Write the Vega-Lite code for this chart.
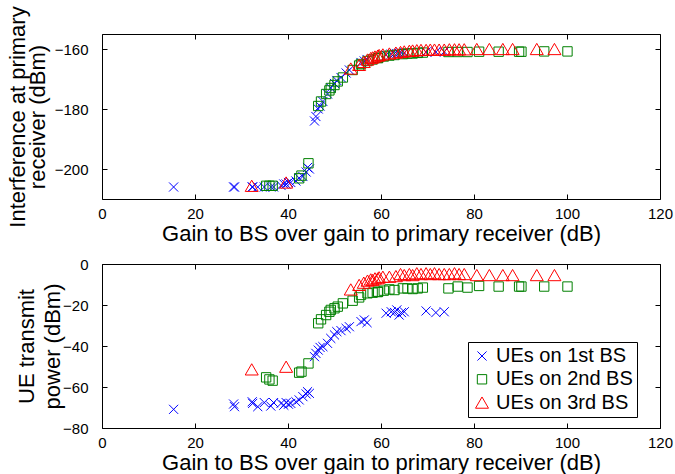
{
  "$schema": "https://vega.github.io/schema/vega-lite/v6.json",
  "padding": {"left": 6, "top": 5, "right": 2, "bottom": 0},
  "autosize": {"type": "pad"},
  "config": {
    "font": "Liberation Sans",
    "view": {"stroke": "black", "strokeWidth": 1},
    "axis": {"grid": false, "domain": false, "offset": -5, "tickSize": 5, "tickColor": "black", "tickWidth": 1, "labelColor": "black", "labelFontSize": 15, "labelFont": "Liberation Sans", "titleFont": "Liberation Sans", "titleFontSize": 22, "titleFontWeight": "normal", "titleColor": "black", "labelOverlap": false, "labelFlush": false, "labelBound": false},
    "point": {"filled": false, "opacity": 1, "strokeWidth": 1, "size": 169},
    "legend": {"padding": 4, "strokeColor": "black", "fillColor": "white", "labelFontSize": 20, "labelColor": "black", "labelFont": "Liberation Sans", "rowPadding": 3.3, "symbolOffset": 0, "labelOffset": 4, "symbolStrokeWidth": 1, "symbolSize": 169, "cornerRadius": 0}
  },
  "datasets": {
    "ue": [
      {"bs": "UEs on 1st BS", "gain": 15.4, "interf": -206, "power": -70.9},
      {"bs": "UEs on 1st BS", "gain": 28.3, "interf": -206, "power": -68.3},
      {"bs": "UEs on 1st BS", "gain": 28.5, "interf": -206, "power": -69.6},
      {"bs": "UEs on 1st BS", "gain": 32.3, "interf": -206, "power": -67.2},
      {"bs": "UEs on 1st BS", "gain": 32.4, "interf": -206, "power": -68},
      {"bs": "UEs on 1st BS", "gain": 33.5, "interf": -206, "power": -69.6},
      {"bs": "UEs on 1st BS", "gain": 34.9, "interf": -206, "power": -67.6},
      {"bs": "UEs on 1st BS", "gain": 36.3, "interf": -206, "power": -69.3},
      {"bs": "UEs on 1st BS", "gain": 36.9, "interf": -206, "power": -67.6},
      {"bs": "UEs on 1st BS", "gain": 38.5, "interf": -205.5, "power": -68},
      {"bs": "UEs on 1st BS", "gain": 39.1, "interf": -205, "power": -68.9},
      {"bs": "UEs on 1st BS", "gain": 39.6, "interf": -205, "power": -67.6},
      {"bs": "UEs on 1st BS", "gain": 40.1, "interf": -204.5, "power": -68.4},
      {"bs": "UEs on 1st BS", "gain": 40.6, "interf": -204.5, "power": -68},
      {"bs": "UEs on 1st BS", "gain": 41.7, "interf": -204, "power": -67.2},
      {"bs": "UEs on 1st BS", "gain": 42.4, "interf": -203, "power": -66.3},
      {"bs": "UEs on 1st BS", "gain": 43.2, "interf": -202.5, "power": -64.7},
      {"bs": "UEs on 1st BS", "gain": 43.9, "interf": -201, "power": -63.4},
      {"bs": "UEs on 1st BS", "gain": 44.2, "interf": -199.5, "power": -62.3},
      {"bs": "UEs on 1st BS", "gain": 44.6, "interf": -200, "power": -63.1},
      {"bs": "UEs on 1st BS", "gain": 45.7, "interf": -184, "power": -45.2},
      {"bs": "UEs on 1st BS", "gain": 46.0, "interf": -182.5, "power": -43.6},
      {"bs": "UEs on 1st BS", "gain": 46.5, "interf": -180, "power": -42},
      {"bs": "UEs on 1st BS", "gain": 46.9, "interf": -179, "power": -40.7},
      {"bs": "UEs on 1st BS", "gain": 47.5, "interf": -177.5, "power": -40.3},
      {"bs": "UEs on 1st BS", "gain": 48.5, "interf": -175, "power": -38.7},
      {"bs": "UEs on 1st BS", "gain": 49.2, "interf": -173, "power": -36.3},
      {"bs": "UEs on 1st BS", "gain": 50.0, "interf": -171.5, "power": -34.6},
      {"bs": "UEs on 1st BS", "gain": 50.5, "interf": -170.5, "power": -33},
      {"bs": "UEs on 1st BS", "gain": 51.4, "interf": -169.5, "power": -32.5},
      {"bs": "UEs on 1st BS", "gain": 52.5, "interf": -168, "power": -31.4},
      {"bs": "UEs on 1st BS", "gain": 53.2, "interf": -167, "power": -30.6},
      {"bs": "UEs on 1st BS", "gain": 55.7, "interf": -164.5, "power": -28.1},
      {"bs": "UEs on 1st BS", "gain": 56.4, "interf": -164, "power": -27.3},
      {"bs": "UEs on 1st BS", "gain": 57.0, "interf": -163.5, "power": -28.6},
      {"bs": "UEs on 1st BS", "gain": 61.1, "interf": -162, "power": -24},
      {"bs": "UEs on 1st BS", "gain": 62.2, "interf": -161.7, "power": -23.3},
      {"bs": "UEs on 1st BS", "gain": 62.9, "interf": -161.5, "power": -23.7},
      {"bs": "UEs on 1st BS", "gain": 63.4, "interf": -161.5, "power": -22.4},
      {"bs": "UEs on 1st BS", "gain": 63.9, "interf": -161.4, "power": -24.9},
      {"bs": "UEs on 1st BS", "gain": 64.4, "interf": -161.3, "power": -23.7},
      {"bs": "UEs on 1st BS", "gain": 65.0, "interf": -161.2, "power": -23.3},
      {"bs": "UEs on 1st BS", "gain": 69.7, "interf": -161, "power": -22.9},
      {"bs": "UEs on 1st BS", "gain": 71.8, "interf": -161, "power": -23.7},
      {"bs": "UEs on 1st BS", "gain": 73.6, "interf": -160.9, "power": -23.3},
      {"bs": "UEs on 2nd BS", "gain": 35.3, "interf": -205.6, "power": -55.3},
      {"bs": "UEs on 2nd BS", "gain": 36.0, "interf": -205.6, "power": -56.3},
      {"bs": "UEs on 2nd BS", "gain": 36.7, "interf": -205.6, "power": -56.9},
      {"bs": "UEs on 2nd BS", "gain": 42.4, "interf": -203.1, "power": -53},
      {"bs": "UEs on 2nd BS", "gain": 42.9, "interf": -202.2, "power": -52.5},
      {"bs": "UEs on 2nd BS", "gain": 44.4, "interf": -198.1, "power": -48.5},
      {"bs": "UEs on 2nd BS", "gain": 46.5, "interf": -179, "power": -28.9},
      {"bs": "UEs on 2nd BS", "gain": 47.1, "interf": -177.5, "power": -27},
      {"bs": "UEs on 2nd BS", "gain": 48.2, "interf": -175, "power": -24.9},
      {"bs": "UEs on 2nd BS", "gain": 48.9, "interf": -173.8, "power": -23.3},
      {"bs": "UEs on 2nd BS", "gain": 49.2, "interf": -173, "power": -22.4},
      {"bs": "UEs on 2nd BS", "gain": 50.0, "interf": -172, "power": -21.6},
      {"bs": "UEs on 2nd BS", "gain": 50.7, "interf": -170.8, "power": -20.8},
      {"bs": "UEs on 2nd BS", "gain": 51.8, "interf": -169.5, "power": -19.2},
      {"bs": "UEs on 2nd BS", "gain": 53.9, "interf": -167, "power": -17.9},
      {"bs": "UEs on 2nd BS", "gain": 55.3, "interf": -165.5, "power": -16.3},
      {"bs": "UEs on 2nd BS", "gain": 55.7, "interf": -165, "power": -15.1},
      {"bs": "UEs on 2nd BS", "gain": 57.1, "interf": -164, "power": -14.3},
      {"bs": "UEs on 2nd BS", "gain": 58.2, "interf": -163.5, "power": -14},
      {"bs": "UEs on 2nd BS", "gain": 59.3, "interf": -163, "power": -13.7},
      {"bs": "UEs on 2nd BS", "gain": 59.4, "interf": -163, "power": -13.5},
      {"bs": "UEs on 2nd BS", "gain": 60.6, "interf": -162.5, "power": -13},
      {"bs": "UEs on 2nd BS", "gain": 61.8, "interf": -162.2, "power": -12.4},
      {"bs": "UEs on 2nd BS", "gain": 62.9, "interf": -162, "power": -12.7},
      {"bs": "UEs on 2nd BS", "gain": 64.7, "interf": -161.7, "power": -11.9},
      {"bs": "UEs on 2nd BS", "gain": 65.7, "interf": -161.5, "power": -11.9},
      {"bs": "UEs on 2nd BS", "gain": 66.8, "interf": -161.5, "power": -12.2},
      {"bs": "UEs on 2nd BS", "gain": 67.9, "interf": -161.3, "power": -11.9},
      {"bs": "UEs on 2nd BS", "gain": 69.0, "interf": -161.2, "power": -11.5},
      {"bs": "UEs on 2nd BS", "gain": 74.5, "interf": -161, "power": -11.9},
      {"bs": "UEs on 2nd BS", "gain": 76.5, "interf": -161, "power": -11},
      {"bs": "UEs on 2nd BS", "gain": 78.6, "interf": -161, "power": -11.5},
      {"bs": "UEs on 2nd BS", "gain": 81.1, "interf": -160.9, "power": -10.7},
      {"bs": "UEs on 2nd BS", "gain": 85.3, "interf": -160.9, "power": -11},
      {"bs": "UEs on 2nd BS", "gain": 89.7, "interf": -160.9, "power": -11},
      {"bs": "UEs on 2nd BS", "gain": 90.2, "interf": -160.9, "power": -11},
      {"bs": "UEs on 2nd BS", "gain": 95.1, "interf": -160.8, "power": -11},
      {"bs": "UEs on 2nd BS", "gain": 100.1, "interf": -160.8, "power": -11},
      {"bs": "UEs on 3rd BS", "gain": 32.2, "interf": -205.6, "power": -51.4},
      {"bs": "UEs on 3rd BS", "gain": 39.6, "interf": -204.5, "power": -50.1},
      {"bs": "UEs on 3rd BS", "gain": 53.5, "interf": -166.5, "power": -12.4},
      {"bs": "UEs on 3rd BS", "gain": 55.3, "interf": -165.3, "power": -10.2},
      {"bs": "UEs on 3rd BS", "gain": 56.3, "interf": -164.3, "power": -9.1},
      {"bs": "UEs on 3rd BS", "gain": 57.1, "interf": -163.5, "power": -8.1},
      {"bs": "UEs on 3rd BS", "gain": 57.8, "interf": -163, "power": -7.5},
      {"bs": "UEs on 3rd BS", "gain": 58.2, "interf": -162.8, "power": -7.8},
      {"bs": "UEs on 3rd BS", "gain": 58.7, "interf": -162.5, "power": -7},
      {"bs": "UEs on 3rd BS", "gain": 59.3, "interf": -162.2, "power": -7},
      {"bs": "UEs on 3rd BS", "gain": 59.6, "interf": -162, "power": -6.5},
      {"bs": "UEs on 3rd BS", "gain": 60.4, "interf": -161.8, "power": -6.2},
      {"bs": "UEs on 3rd BS", "gain": 61.8, "interf": -161.5, "power": -6.2},
      {"bs": "UEs on 3rd BS", "gain": 63.2, "interf": -161.2, "power": -5.9},
      {"bs": "UEs on 3rd BS", "gain": 64.2, "interf": -161, "power": -4.9},
      {"bs": "UEs on 3rd BS", "gain": 65.0, "interf": -160.8, "power": -5.4},
      {"bs": "UEs on 3rd BS", "gain": 66.1, "interf": -160.6, "power": -4.9},
      {"bs": "UEs on 3rd BS", "gain": 66.8, "interf": -160.5, "power": -5.4},
      {"bs": "UEs on 3rd BS", "gain": 67.7, "interf": -160.4, "power": -4.5},
      {"bs": "UEs on 3rd BS", "gain": 68.6, "interf": -160.3, "power": -4.9},
      {"bs": "UEs on 3rd BS", "gain": 69.7, "interf": -160.3, "power": -4.5},
      {"bs": "UEs on 3rd BS", "gain": 70.6, "interf": -160.2, "power": -4.9},
      {"bs": "UEs on 3rd BS", "gain": 71.5, "interf": -160.2, "power": -4.5},
      {"bs": "UEs on 3rd BS", "gain": 72.5, "interf": -160.2, "power": -4.9},
      {"bs": "UEs on 3rd BS", "gain": 73.6, "interf": -160.2, "power": -4.9},
      {"bs": "UEs on 3rd BS", "gain": 74.7, "interf": -160.1, "power": -4.9},
      {"bs": "UEs on 3rd BS", "gain": 75.8, "interf": -160.1, "power": -4.5},
      {"bs": "UEs on 3rd BS", "gain": 76.8, "interf": -160.1, "power": -4.9},
      {"bs": "UEs on 3rd BS", "gain": 77.9, "interf": -160.1, "power": -4.9},
      {"bs": "UEs on 3rd BS", "gain": 80.6, "interf": -160, "power": -5.4},
      {"bs": "UEs on 3rd BS", "gain": 83.3, "interf": -160, "power": -5.4},
      {"bs": "UEs on 3rd BS", "gain": 86.2, "interf": -160, "power": -5.4},
      {"bs": "UEs on 3rd BS", "gain": 88.3, "interf": -160, "power": -5.4},
      {"bs": "UEs on 3rd BS", "gain": 93.5, "interf": -160, "power": -5.4},
      {"bs": "UEs on 3rd BS", "gain": 97.3, "interf": -160, "power": -5.4}
    ]
  },
  "spacing": 11,
  "resolve": {"legend": {"color": "independent", "shape": "independent"}},
  "vconcat": [
    {
      "width": 558,
      "height": 165,
      "data": {"name": "ue"},
      "layer": [
        {
          "mark": {"type": "point"},
          "encoding": {
            "x": {"field": "gain", "type": "quantitative", "scale": {"domain": [0, 120], "nice": false, "zero": false},
              "axis": {"orient": "bottom", "values": [0, 20, 40, 60, 80, 100, 120], "title": "Gain to BS over gain to primary receiver (dB)", "labelPadding": 7, "titleBaseline": "top", "titleY": 29}},
            "y": {"field": "interf", "type": "quantitative", "scale": {"domain": [-210, -155], "nice": false, "zero": false},
              "axis": {"orient": "left", "values": [-200, -180, -160], "title": ["Interference at primary", "receiver (dBm)"], "labelPadding": 14, "titleAngle": 270, "titleBaseline": "top", "titleAlign": "center", "titleLineHeight": 20, "titleX": -99.5}},
            "color": {"field": "bs", "type": "nominal", "scale": {"domain": ["UEs on 1st BS", "UEs on 2nd BS", "UEs on 3rd BS"], "range": ["#0000ff", "#008000", "#ff0000"]}, "legend": null},
            "shape": {"field": "bs", "type": "nominal", "scale": {"domain": ["UEs on 1st BS", "UEs on 2nd BS", "UEs on 3rd BS"], "range": ["M-0.7,-0.7L0.7,0.7M0.7,-0.7L-0.7,0.7", "M-0.72,-0.72L0.72,-0.72L0.72,0.72L-0.72,0.72Z", "triangle-up"]}, "legend": null}
          }
        },
        {
          "mark": {"type": "point", "opacity": 0},
          "encoding": {
            "x": {"field": "gain", "type": "quantitative", "axis": {"orient": "top", "labels": false, "title": null, "values": [0, 20, 40, 60, 80, 100, 120]}},
            "y": {"field": "interf", "type": "quantitative", "axis": {"orient": "right", "labels": false, "title": null, "values": [-200, -180, -160]}}
          }
        }
      ],
      "resolve": {"axis": {"x": "independent", "y": "independent"}}
    },
    {
      "width": 558,
      "height": 164,
      "data": {"name": "ue"},
      "layer": [
        {
          "mark": {"type": "point"},
          "encoding": {
            "x": {"field": "gain", "type": "quantitative", "scale": {"domain": [0, 120], "nice": false, "zero": false},
              "axis": {"orient": "bottom", "values": [0, 20, 40, 60, 80, 100, 120], "title": "Gain to BS over gain to primary receiver (dB)", "labelPadding": 7, "titleBaseline": "top", "titleY": 29}},
            "y": {"field": "power", "type": "quantitative", "scale": {"domain": [-80, 0], "nice": false, "zero": false},
              "axis": {"orient": "left", "values": [-80, -60, -40, -20, 0], "title": ["UE transmit", "power (dBm)"], "labelPadding": 14, "titleAngle": 270, "titleBaseline": "top", "titleAlign": "center", "titleLineHeight": 26, "titleX": -91}},
            "color": {"field": "bs", "type": "nominal", "scale": {"domain": ["UEs on 1st BS", "UEs on 2nd BS", "UEs on 3rd BS"], "range": ["#0000ff", "#008000", "#ff0000"]},
              "legend": {"title": null, "orient": "none", "legendX": 366, "legendY": 78}},
            "shape": {"field": "bs", "type": "nominal", "scale": {"domain": ["UEs on 1st BS", "UEs on 2nd BS", "UEs on 3rd BS"], "range": ["M-0.7,-0.7L0.7,0.7M0.7,-0.7L-0.7,0.7", "M-0.72,-0.72L0.72,-0.72L0.72,0.72L-0.72,0.72Z", "triangle-up"]},
              "legend": {"title": null, "orient": "none", "legendX": 366, "legendY": 78}}
          }
        },
        {
          "mark": {"type": "point", "opacity": 0},
          "encoding": {
            "x": {"field": "gain", "type": "quantitative", "axis": {"orient": "top", "labels": false, "title": null, "values": [0, 20, 40, 60, 80, 100, 120]}},
            "y": {"field": "power", "type": "quantitative", "axis": {"orient": "right", "labels": false, "title": null, "values": [-80, -60, -40, -20, 0]}}
          }
        }
      ],
      "resolve": {"axis": {"x": "independent", "y": "independent"}}
    }
  ]
}
